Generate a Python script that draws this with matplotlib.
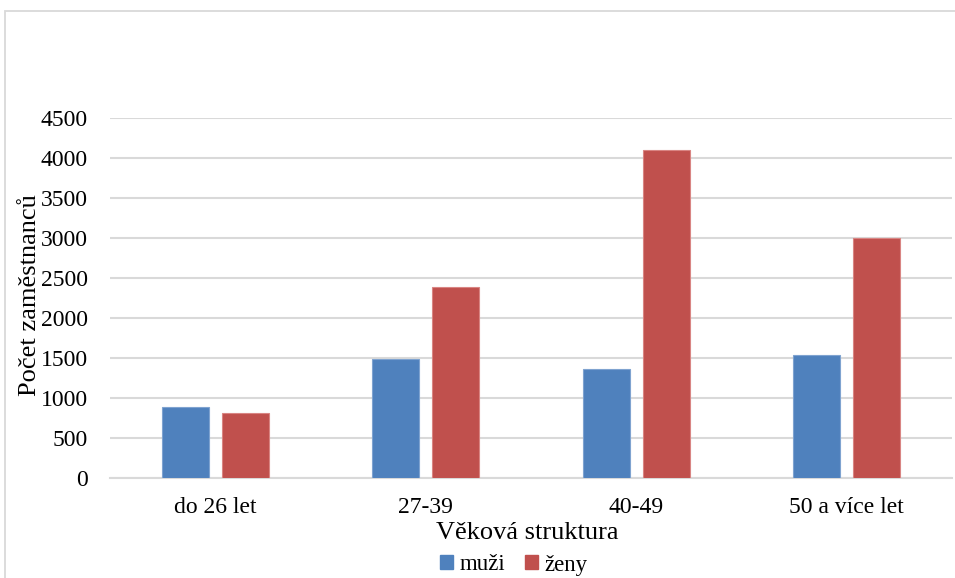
import matplotlib
matplotlib.use("Agg")
import matplotlib.pyplot as plt
from matplotlib.patches import Rectangle, Patch
import numpy as np

categories = ["do 26 let", "27-39", "40-49", "50 a více let"]
muzi = [888, 1490, 1365, 1540]
zeny = [815, 2390, 4100, 3000]
yticks = [0, 500, 1000, 1500, 2000, 2500, 3000, 3500, 4000, 4500]

BLUE = "#4F81BD"
RED = "#C0504D"
GRID = "#D9D9D9"

plt.rcParams["font.family"] = ["Liberation Serif", "DejaVu Serif"]

W, H = 955, 578
fig = plt.figure(figsize=(W / 100, H / 100), dpi=100)

# outer chart border (extends past right and bottom edges)
fig.add_artist(Rectangle((4.5 / W, -0.05), 1.1, 1 + 0.05 - 10.5 / H,
                         transform=fig.transFigure, fill=False,
                         edgecolor=GRID, linewidth=1.3))

ax = fig.add_axes([110 / W, 1 - 478 / H, (952 - 110) / W, (478 - 118) / H])

x = np.arange(len(categories))
bw = 0.223
off = 0.142
ax.bar(x - off, muzi, bw, color=BLUE, edgecolor="#7FA3D0", linewidth=0.8, zorder=3)
ax.bar(x + off, zeny, bw, color=RED, edgecolor="#D98583", linewidth=0.8, zorder=3)

ax.set_xlim(-0.5, len(categories) - 0.5)
ax.set_ylim(0, 4500)
ax.set_yticks(yticks)
ax.set_yticklabels([str(v) for v in yticks], fontsize=17)
ax.set_xticks(x)
ax.set_xticklabels(categories, fontsize=17)
ax.tick_params(axis="both", length=0)
ax.tick_params(axis="y", pad=16)
ax.tick_params(axis="x", pad=14)

ax.grid(axis="y", color=GRID, linewidth=1.5, zorder=0)
for s in ["top", "right", "left"]:
    ax.spines[s].set_visible(False)
ax.spines["bottom"].set_color(GRID)
ax.spines["bottom"].set_linewidth(1.5)

ax.set_xlabel("Věková struktura", fontsize=19)
ax.xaxis.set_label_coords((527 - 110) / 842, -0.153)
ax.xaxis.label.set_va("center")
ax.set_ylabel("Počet zaměstnanců", fontsize=19)
ax.yaxis.set_label_coords(-0.082, 0.508)

handles = [Patch(facecolor=BLUE, edgecolor=BLUE), Patch(facecolor=RED, edgecolor=RED)]
fig.legend(handles, ["muži", "ženy"], loc="center", bbox_to_anchor=(514 / W, 1 - 565 / H),
           ncol=2, frameon=False, fontsize=16.5, handlelength=0.55, handleheight=0.55,
           handletextpad=0.3, columnspacing=0.85, borderpad=0)

fig.savefig("out.png", dpi=100)
